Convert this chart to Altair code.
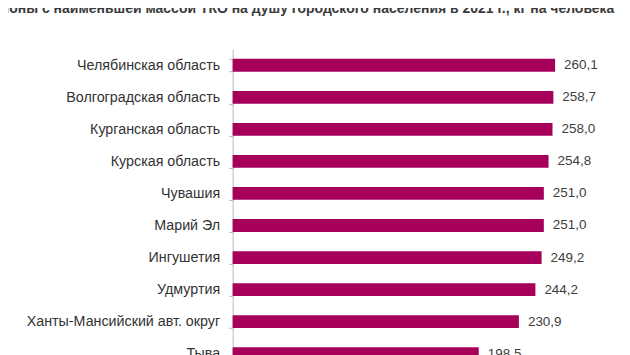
import altair as alt
import pandas as pd

regions = [
    "Челябинская область",
    "Волгоградская область",
    "Курганская область",
    "Курская область",
    "Чувашия",
    "Марий Эл",
    "Ингушетия",
    "Удмуртия",
    "Ханты-Мансийский авт. округ",
    "Тыва",
]
values = [260.1, 258.7, 258.0, 254.8, 251.0, 251.0, 249.2, 244.2, 230.9, 198.5]

title_text = "Регионы с наименьшей массой ТКО на душу городского населения в 2021 г., кг на человека"

df = pd.DataFrame({"region": regions, "value": values})

base = alt.Chart(df).transform_calculate(
    label="replace(format(datum.value, '.1f'), '.', ',')"
)

y_enc = alt.Y(
    "region:N",
    sort=regions,
    title=None,
    scale=alt.Scale(paddingInner=0.6, paddingOuter=0.3),
    axis=alt.Axis(
        labelFont="Liberation Sans",
        labelFontSize=14.3,
        labelColor="#333333",
        labelPadding=9,
        labelLimit=400,
        tickBand="extent",
        tickSize=4,
        tickColor="#bbbbbb",
        domainColor="#bbbbbb",
    ),
)
x_enc = alt.X("value:Q", scale=alt.Scale(domain=[0, 306]), axis=None)

bars = base.mark_bar(color="#a6005b").encode(x=x_enc, y=y_enc)
texts = base.mark_text(
    align="left", baseline="middle", dx=9, font="Liberation Sans", fontSize=13.5, color="#404040"
).encode(x=x_enc, y=y_enc, text="label:N")

chart = (
    (bars + texts)
    .properties(
        width=380,
        height=321,
        title=alt.TitleParams(
            text=title_text,
            anchor="start",
            frame="group",
            font="Liberation Sans",
            fontSize=14,
            fontWeight="bold",
            color="#3a3a3a",
            dx=-255,
            dy=-22,
        ),
        autosize=alt.AutoSizeParams(type="none"),
        padding={"left": 225, "top": 41, "right": 10, "bottom": 10},
    )
    .configure_view(stroke=None)
)

chart.save("out.html", embed_options={"renderer": "svg", "actions": False})
